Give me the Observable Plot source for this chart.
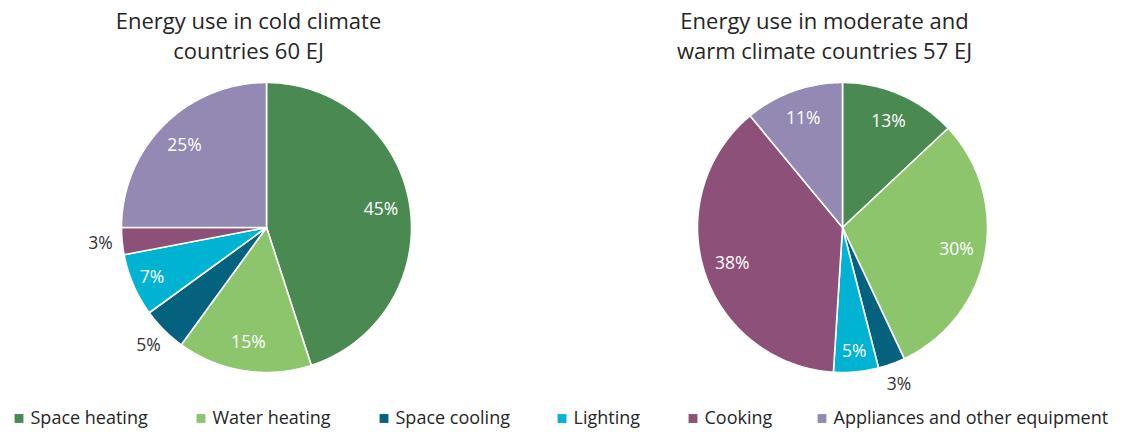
<!DOCTYPE html>
<html><head><meta charset="utf-8">
<script src="https://cdn.jsdelivr.net/npm/d3@7"></script>
<script src="https://cdn.jsdelivr.net/npm/@observablehq/plot@0.6"></script>
<style>body{margin:0;background:#fff;} #chart{width:1123px;height:432px;}</style>
</head><body><div id="chart"></div>
<script>
// ---- data ----
const categories = ["Space heating", "Water heating", "Space cooling", "Lighting", "Cooking", "Appliances and other equipment"];
const coldValues = [45, 15, 5, 7, 3, 25];
const warmValues = [13, 30, 3, 5, 38, 11];
const pieTitles = ["Energy use in cold climate\ncountries 60 EJ", "Energy use in moderate and\nwarm climate countries 57 EJ"];
const colors = ["#4a8a52", "#8cc56b", "#05627f", "#00b3d3", "#8d5079", "#9389b2"];

// ---- layout (not data) ----
const W = 1123, H = 432, R = 145;
const pies = [
  {key: "cold", values: coldValues, cx: 266, cy: 227, title: pieTitles[0], tx: 248, outside: ["Space cooling", "Cooking"]},
  {key: "warm", values: warmValues, cx: 842, cy: 227, title: pieTitles[1], tx: 824, outside: ["Space cooling"]}
];
const legendTextX = [30, 212, 395, 573, 704, 833];
const legendY = 418;
const font = "Open Sans, sans-serif";

// ---- build slice polygons and labels ----
const slicePts = [];
const labels = [];
for (const p of pies) {
  const total = d3.sum(p.values);
  let cum = 0;
  p.values.forEach((v, i) => {
    const a0 = cum / total * 2 * Math.PI;
    cum += v;
    const a1 = cum / total * 2 * Math.PI;
    const id = p.key + i;
    const cat = categories[i];
    slicePts.push({id, cat, x: p.cx, y: p.cy});
    const n = Math.max(2, Math.ceil((a1 - a0) / (Math.PI / 180)));
    for (let k = 0; k <= n; k++) {
      const a = a0 + (a1 - a0) * k / n;
      slicePts.push({id, cat, x: p.cx + R * Math.sin(a), y: p.cy - R * Math.cos(a)});
    }
    slicePts.push({id, cat, x: p.cx, y: p.cy});
    const am = (a0 + a1) / 2;
    const out = p.outside.includes(cat);
    const f = out ? 1.15 : (v < 10 ? 0.86 : 0.8);
    labels.push({text: v + "%", out, x: p.cx + R * f * Math.sin(am), y: p.cy - R * f * Math.cos(am)});
  });
}

const legend = categories.map((c, i) => ({cat: c, x: legendTextX[i], y: legendY}));

const chart = Plot.plot({
  width: W, height: H,
  margin: 0,
  x: {domain: [0, W], range: [0, W], axis: null},
  y: {domain: [0, H], range: [0, H], axis: null},
  color: {domain: categories, range: colors},
  style: {fontFamily: font, background: "#fff"},
  marks: [
    Plot.line(slicePts, {x: "x", y: "y", z: "id", fill: "cat", stroke: "white", strokeWidth: 1.6, strokeLinejoin: "round", curve: "linear"}),
    Plot.text(labels.filter(d => !d.out), {x: "x", y: "y", text: "text", fill: "white", fontSize: 17.5}),
    Plot.text(labels.filter(d => d.out), {x: "x", y: "y", text: "text", fill: "#333", fontSize: 17.5}),
    Plot.text(pies, {x: "tx", y: () => 34, text: "title", fill: "#262626", fontSize: 22, lineHeight: 1.36}),
    Plot.dot(legend, {x: d => d.x - 11.5, y: "y", fill: "cat", symbol: "square", r: 5}),
    Plot.text(legend, {x: "x", y: "y", text: "cat", textAnchor: "start", fill: "#262626", fontSize: 18})
  ]
});
document.getElementById("chart").appendChild(chart);
</script>
</body></html>
